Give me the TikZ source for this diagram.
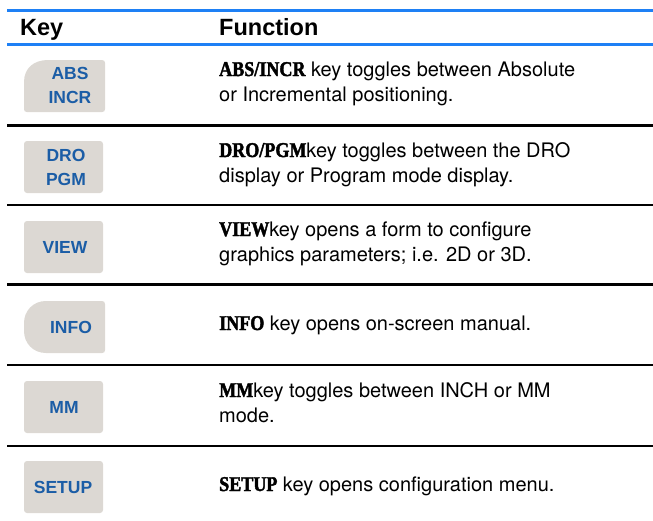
\documentclass[tikz,border=0pt]{standalone}
\usepackage{fontspec}
\setmainfont{TeX Gyre Heros}
\newfontfamily\hdrfont{Liberation Sans}
\newfontfamily\btnfont{Liberation Sans}
\newfontfamily\kfont[FakeStretch=0.86,BoldFeatures={FakeBold=2}]{Liberation Serif}
\definecolor{hblue}{HTML}{1E80F5}
\definecolor{btnfill}{HTML}{DCD8D3}
\definecolor{btntext}{HTML}{1B5DA6}
\newcommand\kn[1]{{\kfont\bfseries\fontsize{21}{24}\selectfont #1}}
\tikzset{
  hline/.style={draw=hblue, line width=3pt},
  rowline/.style={draw=black, line width=2.8pt},
  hdr/.style={anchor=base west, inner sep=0pt, font=\hdrfont\bfseries\fontsize{23.5}{28}\selectfont},
  body/.style={anchor=base west, inner sep=0pt, font=\fontsize{20}{24}\selectfont},
  btn/.style={fill=btnfill, rounded corners=3pt},
  btnlabel/.style={align=center, text=btntext, inner sep=0pt, font=\btnfont\bfseries\fontsize{17.5}{24}\selectfont}
}
\begin{document}
\begin{tikzpicture}[x=1pt,y=-1pt]
\useasboundingbox (0,0) rectangle (653,520);
% header
\draw[hline] (7,10.5) -- (653,10.5);
\draw[hline] (7,44) -- (653,44);
\node[hdr] (hkey) at (20,35) {Key};
\node[hdr] (hfun) at (219,35) {Function};
% row separators
\foreach \yy in {125.5,205,284.5,365,446}
  \draw[rowline] (7,\yy) -- (653,\yy);
% buttons
\fill[btnfill] (24,82) .. controls (24,68) and (34,60) .. (48,60) -- (102,60)
  .. controls (104,60) and (105,61) .. (105,63) -- (105,109)
  .. controls (105,111) and (104,112) .. (102,112) -- (27,112)
  .. controls (25,112) and (24,111) .. (24,109) -- cycle;
\fill[btn] (24,141) rectangle (103,193);
\fill[btn] (24,221) rectangle (103,273);
\fill[btnfill] (46,301) -- (102,301)
  .. controls (104,301) and (105,302) .. (105,304) -- (105,350)
  .. controls (105,352) and (104,353) .. (102,353) -- (46,353)
  .. controls (33,353) and (24,343) .. (24,331) -- (24,323)
  .. controls (24,311) and (33,301) .. (46,301) -- cycle;
\fill[btn] (24,381) rectangle (103,433);
\fill[btn] (24,461) rectangle (103,513);
% button labels
\node[btnlabel] (babs) at (70,85) {ABS\\INCR};
\node[btnlabel] (bdro) at (66,167) {DRO\\PGM};
\node[btnlabel] (bview) at (65,247) {VIEW};
\node[btnlabel] (binfo) at (71,327) {INFO};
\node[btnlabel] (bmm) at (64,407) {MM};
\node[btnlabel] (bsetup) at (63,487) {SETUP};
% descriptions
\node[body] (t1a) at (219,76) {\kn{ABS/INCR} key toggles between Absolute};
\node[body] (t1b) at (219,101) {or Incremental positioning.};
\node[body] (t2a) at (219,157) {\kn{DRO/PGM}key toggles between the DRO};
\node[body] (t2b) at (219,182) {display or Program mode display.};
\node[body] (t3a) at (219,236) {\kn{VIEW}key opens a form to configure};
\node[body] (t3b) at (219,261) {graphics parameters; i.e. 2D or 3D.};
\node[body] (t4a) at (219,330) {\kn{INFO} key opens on-screen manual.};
\node[body] (t5a) at (219,397) {\kn{MM}key toggles between INCH or MM};
\node[body] (t5b) at (219,422) {mode.};
\node[body] (t6a) at (219,491) {\kn{SETUP} key opens configuration menu.};
\end{tikzpicture}
\end{document}
